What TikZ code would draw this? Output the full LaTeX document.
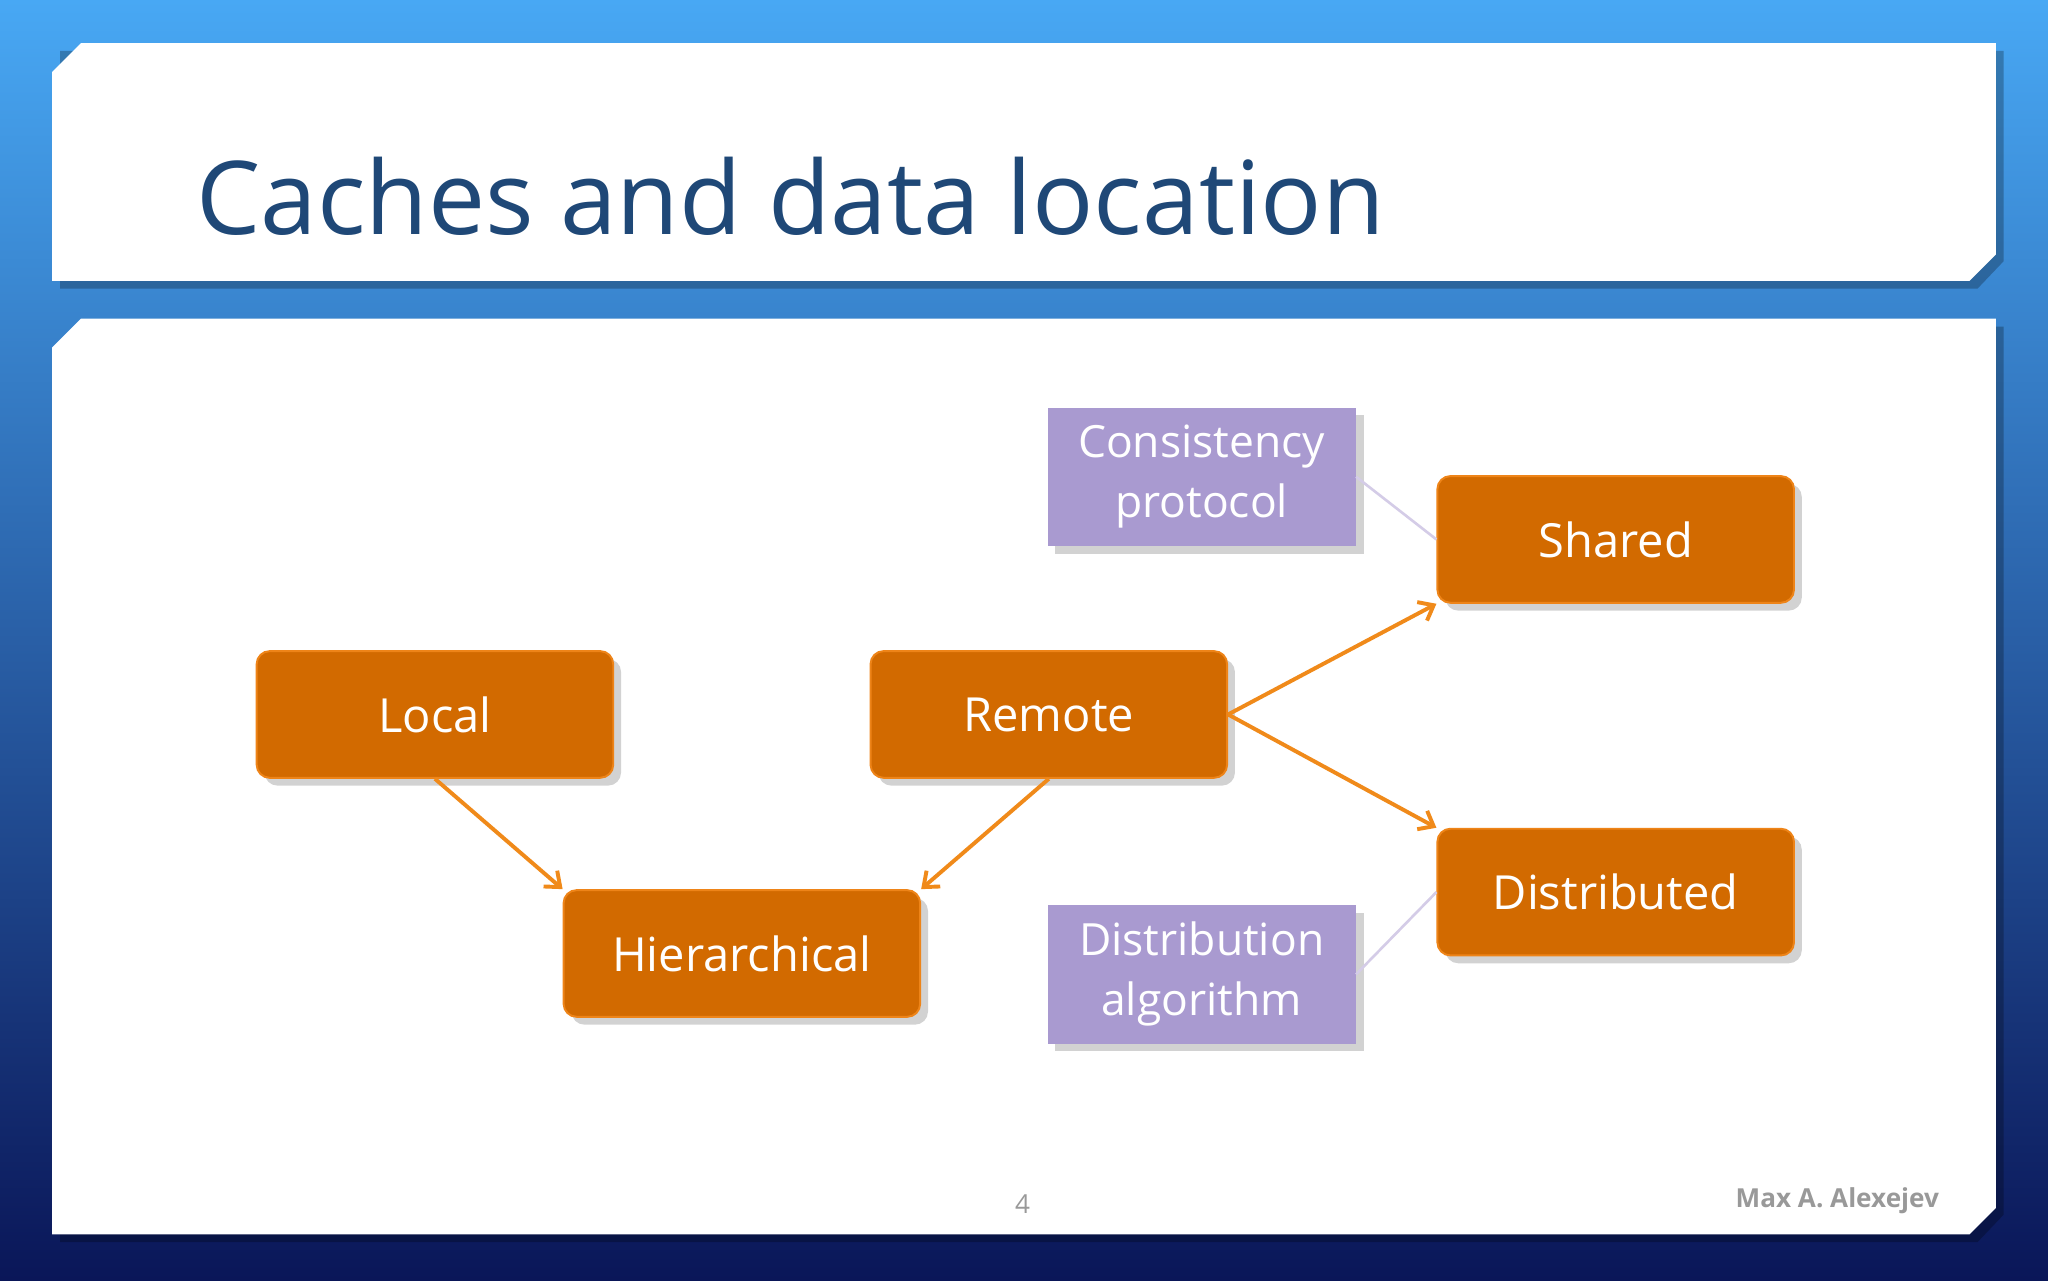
\documentclass[tikz,border=0pt]{standalone}
\usepackage{fontspec}
\setmainfont{Open Sans}
\usetikzlibrary{shadows,arrows.meta}
\definecolor{bgtop}{HTML}{48A8F4}
\definecolor{bgbot}{HTML}{0A1658}
\definecolor{titleblue}{HTML}{1F4877}
\definecolor{orfill}{HTML}{D26A00}
\definecolor{oredge}{HTML}{EE8418}
\definecolor{purp}{HTML}{A99AD0}
\definecolor{arr}{HTML}{F08A1A}
\tikzset{
 obox/.style={draw=oredge,line width=1.5pt,fill=orfill,rounded corners=10pt,minimum width=273pt,minimum height=97pt,text=white,font=\fontsize{36}{40}\selectfont,drop shadow={shadow xshift=6pt,shadow yshift=-6pt,opacity=0.35}},
 pbox/.style={fill=purp,minimum width=236pt,minimum height=106pt,text=white,align=center,font=\fontsize{34}{46}\selectfont,drop shadow={shadow xshift=6pt,shadow yshift=-6pt,opacity=0.35}},
 conn/.style={draw=arr,line width=3pt,-{Straight Barb[length=10pt,width=16pt]}},
 faint/.style={draw=purp!50,line width=2pt}
}
\begin{document}
\begin{tikzpicture}[x=1pt,y=-1pt]
\useasboundingbox (0,0) rectangle (1568,980);
\shade[top color=bgtop,bottom color=bgbot] (0,0) rectangle (1568,980);
\fill[black,opacity=0.25] (46,39)--(70,39)--(1534,39)--(1534,200)--(1514,221)--(46,221)--cycle;
\fill[white] (40,55)--(62,33)--(1528,33)--(1528,195)--(1508,215)--(40,215)--cycle;
\fill[black,opacity=0.25] (46,266)--(68,250)--(1534,250)--(1534,930)--(1514,951)--(46,951)--cycle;
\fill[white] (40,266)--(62,244)--(1528,244)--(1528,925)--(1508,945)--(40,945)--cycle;
\node[anchor=west,text=titleblue,font=\fontsize{78}{80}\selectfont,inner sep=0] (title) at (150,150) {Caches and data location};
\node[obox] (local) at (333,547) {Local};
\node[obox] (remote) at (803,547) {Remote};
\node[obox] (hier) at (568,730) {Hierarchical};
\node[obox] (shared) at (1237,413) {Shared};
\node[obox] (dist) at (1237,683) {Distributed};
\node[pbox] (cons) at (920,365) {Consistency\\protocol};
\node[pbox] (alg) at (920,746) {Distribution\\algorithm};
\draw[faint] (cons.east) -- (shared.west);
\draw[faint] (alg.east) -- (dist.west);
\draw[conn] (local.south) -- (hier.north west);
\draw[conn] (remote.south) -- (hier.north east);
\draw[conn] (remote.east) -- (shared.south west);
\draw[conn] (remote.east) -- (dist.north west);
\node[text=gray!80,font=\fontsize{20}{22}\selectfont] (pg) at (783,922) {4};
\node[anchor=east,text=gray!80,font=\bfseries\fontsize{20}{22}\selectfont] (auth) at (1488,919) {Max A. Alexejev};
\end{tikzpicture}
\end{document}
